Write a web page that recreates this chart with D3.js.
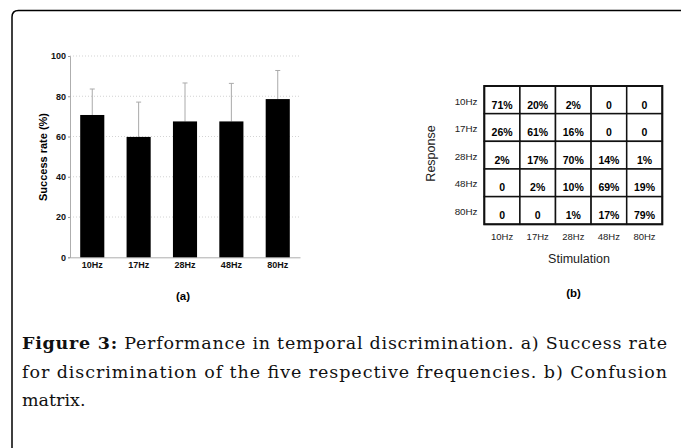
<!DOCTYPE html>
<html>
<head>
<meta charset="utf-8">
<script src="https://cdn.jsdelivr.net/npm/d3@7"></script>
<style>
  html, body { margin: 0; padding: 0; background: #fff; }
  svg { display: block; }
</style>
</head>
<body>
<svg id="fig"></svg>
<script>
// bar chart (a)
const freqs = ["10Hz", "17Hz", "28Hz", "48Hz", "80Hz"];
const successRate = [70.7, 59.8, 67.5, 67.5, 78.6];
const successUpper = [83.6, 77.1, 86.6, 86.4, 92.8];
const yTicks = [0, 20, 40, 60, 80, 100];

// confusion matrix (b): rows = response, cols = stimulation
const matrixRows = ["10Hz", "17Hz", "28Hz", "48Hz", "80Hz"];
const matrixCols = ["10Hz", "17Hz", "28Hz", "48Hz", "80Hz"];
const matrixVals = [
  ["71%", "20%", "2%", "0", "0"],
  ["26%", "61%", "16%", "0", "0"],
  ["2%", "17%", "70%", "14%", "1%"],
  ["0", "2%", "10%", "69%", "19%"],
  ["0", "0", "1%", "17%", "79%"]
];

const captionLines = [
  ["Figure 3:", " Performance in temporal discrimination. a) Success rate"],
  ["", "for discrimination of the five respective frequencies. b) Confusion"],
  ["", "matrix."]
];

const W = 681, H = 448;
const sans = "'Liberation Sans', Arial, sans-serif";
const serif = "'DejaVu Serif', serif";

const svg = d3.select("#fig").attr("width", W).attr("height", H);

// frame (open on right and bottom, rounded top-left corner)
svg.append("path")
  .attr("d", "M12,448 L12,17 Q12,10.5 18.5,10.5 L681,10.5")
  .attr("fill", "none")
  .attr("stroke", "#000")
  .attr("stroke-width", 1.5);

// ---------- (a) bar chart ----------
const a = { left: 70, right: 300, top: 56, bottom: 257.3 };

const x = d3.scaleBand()
  .domain(freqs)
  .range([a.left, a.right])
  .paddingInner(0.48)
  .paddingOuter(0.22);

const y = d3.scaleLinear().domain([0, 100]).range([a.bottom, a.top]);

const gA = svg.append("g");

// dotted gridlines
gA.selectAll(".grid")
  .data(yTicks.filter(d => d > 0))
  .join("line")
  .attr("class", "grid")
  .attr("x1", a.left)
  .attr("x2", a.right)
  .attr("y1", d => y(d))
  .attr("y2", d => y(d))
  .attr("stroke", "#c8c8c8")
  .attr("stroke-width", 0.8)
  .attr("stroke-dasharray", "1,2");

// y axis
const yAxis = d3.axisLeft(y).tickValues(yTicks).tickSize(2).tickPadding(2);
const yAxisG = gA.append("g")
  .attr("transform", `translate(${a.left},0)`)
  .call(yAxis);
yAxisG.select(".domain").attr("stroke", "#999").attr("stroke-width", 0.8);
yAxisG.selectAll(".tick line").attr("stroke", "#999");
yAxisG.selectAll(".tick text")
  .attr("font-family", sans)
  .attr("font-weight", "bold")
  .attr("font-size", 9)
  .attr("fill", "#111");

// x axis
const xAxis = d3.axisBottom(x).tickSize(0).tickPadding(4);
const xAxisG = gA.append("g")
  .attr("transform", `translate(0,${a.bottom})`)
  .call(xAxis);
xAxisG.select(".domain").attr("stroke", "#999").attr("stroke-width", 0.8);
xAxisG.selectAll(".tick text")
  .attr("font-family", sans)
  .attr("font-weight", "bold")
  .attr("font-size", 9)
  .attr("fill", "#111");

// error bars
const cx = d => x(d) + x.bandwidth() / 2;
gA.selectAll(".err")
  .data(freqs)
  .join("line")
  .attr("class", "err")
  .attr("x1", cx)
  .attr("x2", cx)
  .attr("y1", (d, i) => y(successRate[i]))
  .attr("y2", (d, i) => y(successUpper[i]))
  .attr("stroke", "#aaa")
  .attr("stroke-width", 1);
gA.selectAll(".cap")
  .data(freqs)
  .join("line")
  .attr("class", "cap")
  .attr("x1", d => cx(d) - 2.5)
  .attr("x2", d => cx(d) + 2.5)
  .attr("y1", (d, i) => y(successUpper[i]))
  .attr("y2", (d, i) => y(successUpper[i]))
  .attr("stroke", "#aaa")
  .attr("stroke-width", 1);

// bars
gA.selectAll(".bar")
  .data(freqs)
  .join("rect")
  .attr("class", "bar")
  .attr("x", d => x(d))
  .attr("width", x.bandwidth())
  .attr("y", (d, i) => y(successRate[i]))
  .attr("height", (d, i) => a.bottom - y(successRate[i]))
  .attr("fill", "#000");

gA.append("text")
  .attr("transform", "translate(47,157) rotate(-90)")
  .attr("text-anchor", "middle")
  .attr("font-family", sans)
  .attr("font-weight", "bold")
  .attr("font-size", 11)
  .text("Success rate (%)");

gA.append("text")
  .attr("x", 183)
  .attr("y", 299.5)
  .attr("text-anchor", "middle")
  .attr("font-family", sans)
  .attr("font-weight", "bold")
  .attr("font-size", 11.5)
  .text("(a)");

// ---------- (b) confusion matrix ----------
const b = { left: 484.3, right: 662.3, top: 86, bottom: 224.3 };
const mx = d3.scaleBand().domain(matrixCols).range([b.left, b.right]);
const my = d3.scaleBand().domain(matrixRows).range([b.top, b.bottom]);

const gB = svg.append("g");

const cells = [];
matrixRows.forEach((r, i) => {
  matrixCols.forEach((c, j) => cells.push({ r, c, v: matrixVals[i][j] }));
});

gB.selectAll(".cell")
  .data(cells)
  .join("rect")
  .attr("class", "cell")
  .attr("x", d => mx(d.c))
  .attr("y", d => my(d.r))
  .attr("width", mx.bandwidth())
  .attr("height", my.bandwidth())
  .attr("fill", "#fff")
  .attr("stroke", "#111")
  .attr("stroke-width", 1.5);

gB.append("rect")
  .attr("x", b.left)
  .attr("y", b.top)
  .attr("width", b.right - b.left)
  .attr("height", b.bottom - b.top)
  .attr("fill", "none")
  .attr("stroke", "#111")
  .attr("stroke-width", 2);

gB.selectAll(".val")
  .data(cells)
  .join("text")
  .attr("class", "val")
  .attr("x", d => mx(d.c) + mx.bandwidth() / 2)
  .attr("y", d => my(d.r) + 22.5)
  .attr("text-anchor", "middle")
  .attr("font-family", sans)
  .attr("font-weight", "bold")
  .attr("font-size", 10.5)
  .attr("fill", "#000")
  .text(d => d.v);

gB.selectAll(".rowlab")
  .data(matrixRows)
  .join("text")
  .attr("class", "rowlab")
  .attr("x", 477.5)
  .attr("y", d => my(d) + 18.5)
  .attr("text-anchor", "end")
  .attr("font-family", sans)
  .attr("font-size", 9.8)
  .attr("fill", "#222")
  .text(d => d);

gB.selectAll(".collab")
  .data(matrixCols)
  .join("text")
  .attr("class", "collab")
  .attr("x", d => mx(d) + mx.bandwidth() / 2)
  .attr("y", 240.3)
  .attr("text-anchor", "middle")
  .attr("font-family", sans)
  .attr("font-size", 9.5)
  .attr("fill", "#222")
  .text(d => d);

gB.append("text")
  .attr("transform", "translate(434.5,153.5) rotate(-90)")
  .attr("text-anchor", "middle")
  .attr("font-family", sans)
  .attr("font-size", 12.5)
  .attr("fill", "#222")
  .text("Response");

gB.append("text")
  .attr("x", 579)
  .attr("y", 262.5)
  .attr("text-anchor", "middle")
  .attr("font-family", sans)
  .attr("font-size", 12.5)
  .attr("fill", "#222")
  .text("Stimulation");

gB.append("text")
  .attr("x", 573.5)
  .attr("y", 297)
  .attr("text-anchor", "middle")
  .attr("font-family", sans)
  .attr("font-weight", "bold")
  .attr("font-size", 11.5)
  .text("(b)");

// ---------- caption ----------
const capBase = [349, 377.5, 406];
captionLines.forEach((ln, i) => {
  const t = svg.append("text")
    .attr("x", 22)
    .attr("y", capBase[i])
    .attr("font-family", serif)
    .attr("font-size", 17.5)
    .attr("fill", "#111");
  if (i < captionLines.length - 1) {
    t.attr("textLength", 645).attr("lengthAdjust", "spacing");
  }
  if (ln[0]) {
    t.append("tspan").attr("font-weight", "bold").text(ln[0]);
  }
  t.append("tspan").text(ln[1]);
});
</script>
</body>
</html>
